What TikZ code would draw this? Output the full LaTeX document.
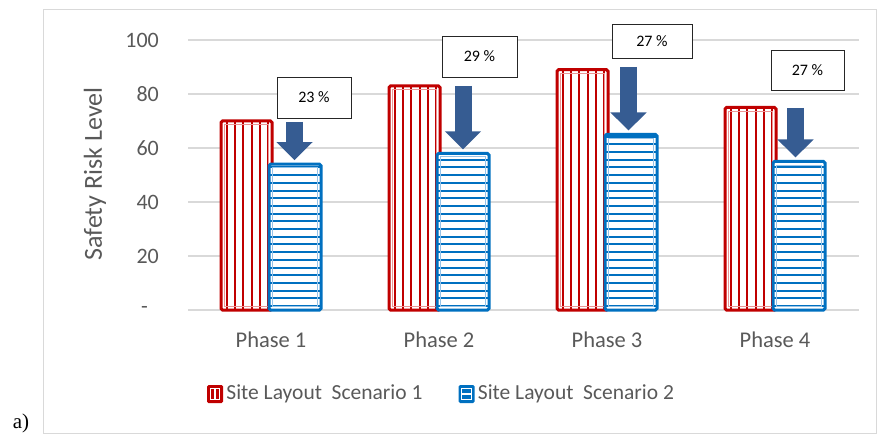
\documentclass[tikz,border=0pt]{standalone}
\usepackage{fontspec}
\setmainfont{Carlito}
\newfontfamily\panelfont{Liberation Serif}
\usetikzlibrary{arrows.meta,positioning}
\definecolor{scenA}{RGB}{192,0,0}
\definecolor{scenAlight}{RGB}{236,150,150}
\definecolor{scenB}{RGB}{0,112,192}
\definecolor{scenBlight}{RGB}{150,195,232}
\definecolor{gridgray}{RGB}{217,217,217}
\definecolor{textgray}{RGB}{89,89,89}
\definecolor{dropblue}{RGB}{54,92,146}

\begin{document}
\begin{tikzpicture}[
  x=1pt, y=1pt,
  ticklabel/.style={anchor=east, inner sep=0pt, text=textgray, font=\fontsize{22}{26}\selectfont},
  catlabel/.style={anchor=base, inner sep=0pt, text=textgray, font=\fontsize{22.5}{26}\selectfont},
  legtext/.style={anchor=west, inner sep=0pt, text=textgray, font=\fontsize{21.5}{25}\selectfont},
  legkey/.style={rectangle, rounded corners=1.5pt, minimum width=16pt, minimum height=18pt, inner sep=0pt},
  pctbox/.style={rectangle, draw=black!85, line width=0.9pt, fill=white, text=black, font=\fontsize{16}{19}\selectfont, minimum width=74pt, minimum height=41pt},
  drop/.style={-{Triangle[width=35pt,length=18pt]}, line width=17pt, draw=dropblue}
]
\useasboundingbox (0,0) rectangle (877,437);

% frame and grid
\draw[gridgray, line width=1pt] (43,4) rectangle (876,427);
\foreach \v in {0,20,...,100}
  \draw[gridgray, line width=1.3pt] (188,127+2.7*\v) -- (859,127+2.7*\v);

% y axis
\node[ticklabel] (t0) at (148,127) {-};
\foreach \v in {20,40,...,100}
  \node[ticklabel] (t\v) at (159,127+2.7*\v) {\v};
\node[rotate=90, text=textgray, font=\fontsize{26}{30}\selectfont] (ytitle) at (95,263) {Safety Risk Level};

% bars
\foreach \i/\ra/\sb in {1/70/54, 2/83/58, 3/89/65, 4/75/55} {
  \pgfmathsetmacro\cx{271+168*(\i-1)}
  \pgfmathsetmacro\ya{127+2.7*\ra}
  \pgfmathsetmacro\yb{127+2.7*\sb}
  % scenario 1
  \begin{scope}
    \clip (\cx-50,127) rectangle (\cx+1,\ya);
    \fill[white] (\cx-50,127) rectangle (\cx+1,\ya);
    \foreach \k in {0,...,5}
      \draw[scenA, line width=2pt] (\cx-44.3+8.3*\k,127) -- (\cx-44.3+8.3*\k,\ya);
  \end{scope}
  \draw[scenAlight, line width=0.8pt] (\cx-46.5,130.5) rectangle (\cx-2.5,\ya-3.5);
  \draw[scenA, line width=3pt, rounded corners=1.5pt] (\cx-50,127) rectangle (\cx+1,\ya);
  % scenario 2
  \begin{scope}
    \clip (\cx-2,127) rectangle (\cx+50,\yb);
    \fill[white] (\cx-2,127) rectangle (\cx+50,\yb);
    \foreach \k in {0,...,26}
      \draw[scenB, line width=2pt] (\cx-2,131+7.7*\k) -- (\cx+50,131+7.7*\k);
  \end{scope}
  \draw[scenBlight, line width=0.8pt] (\cx+1.5,130.5) rectangle (\cx+46.5,\yb-3.5);
  \draw[scenB, line width=3pt, rounded corners=1.5pt] (\cx-2,127) rectangle (\cx+50,\yb);
  \coordinate (tip\i) at (\cx+24,\yb+4);
  \node[catlabel] (phase\i) at (\cx,90) {Phase \i};
}

% reduction callouts
\node[pctbox] (pct1) at (314,339.5) {23 \%};
\node[pctbox, minimum width=75pt] (pct2) at (479.5,380.5) {29 \%};
\node[pctbox, minimum width=80pt, minimum height=34pt] (pct3) at (652,396) {27 \%};
\node[pctbox, minimum width=73pt, minimum height=40pt] (pct4) at (807.5,367) {27 \%};

\coordinate (from1) at (294.5,315);
\coordinate (from2) at (463,351);
\coordinate (from3) at (628.5,370);
\coordinate (from4) at (795.5,329);

\draw[drop] (from1) -- (from1 |- tip1);
\draw[drop] (from2) -- (from2 |- tip2);
\draw[drop] (from3) -- (from3 |- tip3);
\draw[drop] (from4) -- (from4 |- tip4);

% legend
\node[legkey, fill=scenA] (key1) at (215,43) {};
\draw[white, line width=1pt] ([shift={(3.5,3.5)}]key1.south west) rectangle ([shift={(-3.5,-3.5)}]key1.north east);
\draw[white, line width=1.2pt] (key1.south) ++(0,3.5) -- ++(0,11);
\node[legtext, right=3pt of key1] (leg1) {Site Layout~~Scenario 1};
\node[legkey, fill=scenB] (key2) at (466.5,43) {};
\draw[white, line width=1pt] ([shift={(3.5,3.5)}]key2.south west) rectangle ([shift={(-3.5,-3.5)}]key2.north east);
\draw[white, line width=1.2pt] (key2.west) ++(3.5,0) -- ++(9,0);
\node[legtext, right=3pt of key2] (leg2) {Site Layout~~Scenario 2};

\node[font=\panelfont\fontsize{21}{25}\selectfont, inner sep=0pt] (panel) at (21,14) {a)};
\end{tikzpicture}
\end{document}
